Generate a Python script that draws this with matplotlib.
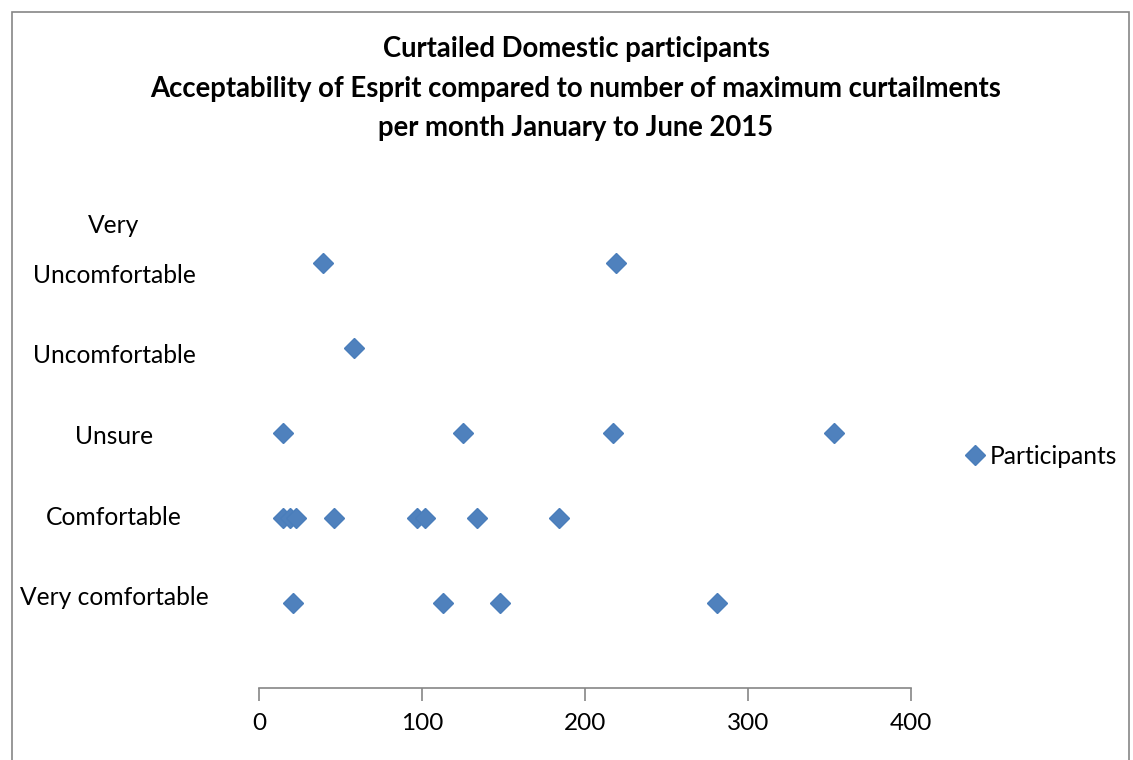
import matplotlib
matplotlib.use("Agg")
import matplotlib.pyplot as plt
from matplotlib.patches import Rectangle
import matplotlib.transforms as mtrans

plt.rcParams['font.family'] = ['Lato', 'DejaVu Sans']

categories = ["Very comfortable", "Comfortable", "Unsure", "Uncomfortable", "Very\nUncomfortable"]
cat_values = [1, 2, 3, 4, 5]

very_uncomfortable_x = [39, 219]
uncomfortable_x = [58]
unsure_x = [15, 125, 217, 353]
comfortable_x = [15, 19, 23, 46, 97, 102, 134, 184]
very_comfortable_x = [21, 113, 148, 281]

xticks = [0, 100, 200, 300, 400]
title = ("Curtailed Domestic participants\n"
         "Acceptability of Esprit compared to number of maximum curtailments\n"
         "per month January to June 2015")

W, H = 1133, 760
fig = plt.figure(figsize=(W / 100, H / 100), dpi=100)
ax = fig.add_axes([259 / W, (H - 688) / H, 652 / W, 510 / H])

xs, ys = [], []
for yv, arr in zip(cat_values, [very_comfortable_x, comfortable_x, unsure_x,
                                uncomfortable_x, very_uncomfortable_x]):
    xs += arr
    ys += [yv] * len(arr)

color = "#4F81BD"
ax.plot(xs, ys, linestyle="none", marker="D", markersize=10,
        markerfacecolor=color, markeredgecolor="#4A7EBB", label="Participants")

ax.set_xlim(0, 400)
ax.set_ylim(0, 6)
ax.set_xticks(xticks)
ax.set_xticklabels([str(t) for t in xticks], fontsize=17.5)
ax.tick_params(axis="x", direction="out", length=9, width=1.2, color="#868686", pad=9)
ax.set_yticks([])
for s in ["top", "right", "left"]:
    ax.spines[s].set_visible(False)
ax.spines["bottom"].set_color("#868686")
ax.spines["bottom"].set_linewidth(1.2)

# category labels centered at a fixed x in figure coords
trans = mtrans.blended_transform_factory(fig.transFigure, ax.transData)
label_offsets = [0.06, 0.01, -0.04, -0.09, 0.15]
for yv, lab, off in zip(cat_values, categories, label_offsets):
    ax.text(114 / W, yv + off, lab, transform=trans, ha="center", va="center",
            fontsize=17.7, linespacing=2.4, color="black")

fig.text(576 / W, 1 - 88.5 / H, title, ha="center", va="center", fontsize=19.8,
         fontweight="bold", linespacing=1.66)

leg = fig.legend(loc="center left", bbox_to_anchor=(948 / W, 1 - 456 / H),
                 frameon=False, fontsize=17.7, handletextpad=0.0, borderpad=0,
                 handlelength=1.2)

fig.patches.append(Rectangle((12 / W, -0.01), (1129 - 12) / W, 1 - 12 / H + 0.01,
                             transform=fig.transFigure, fill=False,
                             edgecolor="#868686", linewidth=1.2))

fig.savefig("out.png", dpi=100)
